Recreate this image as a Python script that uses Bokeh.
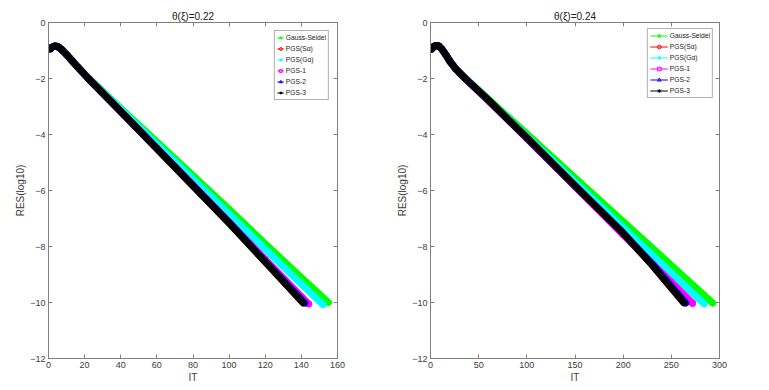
from bokeh.plotting import figure
from bokeh.layouts import row
from bokeh.models import Range1d, FixedTicker, LinearAxis, Legend, LegendItem
from bokeh.embed import file_html
from bokeh.resources import INLINE

# ---------------- data ----------------
SERIES = ["Gauss-Seidel", "PGS(Sα)", "PGS(Gα)", "PGS-1", "PGS-2", "PGS-3"]
COLORS = ["#00ff00", "#ff0000", "#00ffff", "#ff00ff", "#0000ff", "#000000"]
MARKERS = ["star", "circle", "diamond", "square", "triangle", "asterisk"]

# left panel: theta(xi)=0.22
L_HEAD_IT = [1, 2, 3, 4, 5, 6, 8, 10, 13, 16]
L_HEAD_RES = [-0.94, -0.88, -0.85, -0.84, -0.86, -0.90, -1.01, -1.15, -1.36, -1.58]
L_GS_IT = [22, 40, 60, 80, 100, 120, 140, 155]
L_GS_RES = [-1.97, -3.06, -4.26, -5.47, -6.67, -7.90, -9.11, -10.00]
L_SA_IT = [22, 40, 60, 80, 100, 120, 141]
L_SA_RES = [-2.00, -3.18, -4.50, -5.83, -7.16, -8.55, -10.01]
L_GA_IT = [22, 40, 60, 80, 100, 120, 140, 152]
L_GA_RES = [-1.98, -3.10, -4.35, -5.59, -6.84, -8.09, -9.35, -10.08]
L_P1_IT = [22, 40, 60, 80, 100, 120, 144]
L_P1_RES = [-1.99, -3.17, -4.49, -5.80, -7.12, -8.46, -10.05]
L_P2_IT = [22, 40, 60, 80, 100, 120, 142]
L_P2_RES = [-2.00, -3.18, -4.50, -5.83, -7.15, -8.53, -10.02]
L_P3_IT = [22, 40, 60, 80, 100, 120, 141]
L_P3_RES = [-2.00, -3.18, -4.50, -5.83, -7.16, -8.55, -10.01]

# right panel: theta(xi)=0.24
R_HEAD_IT = [1, 3, 5, 7, 9, 12, 16, 20, 26]
R_HEAD_RES = [-0.95, -0.87, -0.83, -0.82, -0.85, -0.96, -1.16, -1.38, -1.65]
R_GS_IT = [36, 60, 100, 150, 200, 250, 293]
R_GS_RES = [-1.98, -2.73, -3.98, -5.55, -7.11, -8.67, -10.02]
R_SA_IT = [36, 60, 100, 150, 200, 230, 263]
R_SA_RES = [-2.00, -2.77, -4.12, -5.83, -7.52, -8.66, -10.01]
R_GA_IT = [36, 60, 100, 150, 200, 250, 284]
R_GA_RES = [-1.99, -2.77, -4.07, -5.70, -7.32, -8.95, -10.05]
R_P1_IT = [36, 60, 100, 150, 200, 250, 272]
R_P1_RES = [-2.00, -2.79, -4.14, -5.86, -7.58, -9.28, -10.03]
R_P2_IT = [36, 60, 100, 150, 200, 230, 265]
R_P2_RES = [-2.00, -2.77, -4.12, -5.83, -7.52, -8.62, -10.02]
R_P3_IT = [36, 60, 100, 150, 200, 230, 263]
R_P3_RES = [-2.00, -2.77, -4.12, -5.83, -7.52, -8.66, -10.01]

Y_TICKS = [-12, -10, -8, -6, -4, -2, 0]
L_X_TICKS = [0, 20, 40, 60, 80, 100, 120, 140, 160]
R_X_TICKS = [0, 50, 100, 150, 200, 250, 300]

LEFT_TAILS = [(L_GS_IT, L_GS_RES), (L_SA_IT, L_SA_RES), (L_GA_IT, L_GA_RES),
              (L_P1_IT, L_P1_RES), (L_P2_IT, L_P2_RES), (L_P3_IT, L_P3_RES)]
RIGHT_TAILS = [(R_GS_IT, R_GS_RES), (R_SA_IT, R_SA_RES), (R_GA_IT, R_GA_RES),
               (R_P1_IT, R_P1_RES), (R_P2_IT, R_P2_RES), (R_P3_IT, R_P3_RES)]

FONT = "Liberation Sans"
AX_COLOR = "#808080"
TXT_COLOR = "#3c3c3c"


def style_axis(ax, ticks, show_labels=True):
    ax.ticker = FixedTicker(ticks=ticks)
    ax.axis_line_color = AX_COLOR
    ax.major_tick_line_color = AX_COLOR
    ax.major_tick_in = 4
    ax.major_tick_out = 0
    ax.minor_tick_line_color = None
    ax.major_label_text_font = FONT
    ax.major_label_text_color = TXT_COLOR
    if show_labels:
        ax.major_label_text_font_size = "9px"
        ax.major_label_standoff = 3
    else:
        ax.major_label_overrides = {t: "" for t in ticks}
        ax.major_label_text_font_size = "1px"
        ax.major_label_standoff = 0
    ax.axis_label_text_font = FONT
    ax.axis_label_text_font_size = "10px"
    ax.axis_label_text_font_style = "normal"
    ax.axis_label_text_color = TXT_COLOR
    ax.axis_label_standoff = 1


def make_panel(title, head_it, head_res, tails, xmax, xticks, width, border_left,
               border_right, glyph_w, legend_margin):
    p = figure(width=width, height=390, output_backend="svg", toolbar_location=None,
               x_range=Range1d(0, xmax), y_range=Range1d(-12, 0),
               min_border_left=border_left, min_border_right=border_right,
               min_border_top=22, min_border_bottom=32)
    p.title.text = title
    p.title.align = "center"
    p.title.text_font = FONT
    p.title.text_font_size = "10px"
    p.title.text_font_style = "normal"
    p.title.text_color = "#202020"
    p.title.standoff = 1
    p.grid.visible = False
    p.outline_line_color = AX_COLOR
    p.background_fill_color = "white"
    p.border_fill_color = "white"

    style_axis(p.xaxis[0], xticks)
    style_axis(p.yaxis[0], Y_TICKS)
    p.xaxis[0].axis_label = "IT"
    p.yaxis[0].axis_label = "RES(log10)"

    top = LinearAxis()
    style_axis(top, xticks, show_labels=False)
    p.add_layout(top, "above")
    right = LinearAxis()
    style_axis(right, Y_TICKS, show_labels=False)
    p.add_layout(right, "right")

    items = []
    for name, color, marker, (t_it, t_res) in zip(SERIES, COLORS, MARKERS, tails):
        xs = head_it + t_it
        ys = head_res + t_res
        thin = p.line(xs, ys, line_color=color, line_width=1)
        p.line(xs, ys, line_color=color, line_width=7, line_join="round", line_cap="round")
        marks = p.scatter(xs, ys, marker=marker, size=5, line_color=color, fill_color=None)
        items.append(LegendItem(label=name, renderers=[thin, marks]))

    legend = Legend(items=items, location="top_right")
    legend.margin = legend_margin
    legend.padding = 2
    legend.spacing = 2
    legend.label_height = 9
    legend.glyph_height = 9
    legend.glyph_width = glyph_w
    legend.label_standoff = 2
    legend.label_text_font = FONT
    legend.label_text_font_size = "6.7px"
    legend.label_text_color = "#202020"
    legend.border_line_color = "#606060"
    legend.background_fill_color = "white"
    legend.background_fill_alpha = 1.0
    p.add_layout(legend)
    return p


p1 = make_panel("θ(ξ)=0.22", L_HEAD_IT, L_HEAD_RES, LEFT_TAILS, 160, L_X_TICKS,
                390, 48, 53, 7, 8)
p2 = make_panel("θ(ξ)=0.24", R_HEAD_IT, R_HEAD_RES, RIGHT_TAILS, 300, R_X_TICKS,
                379, 40, 50, 18, 6)

layout = row(p1, p2)
open("out.html", "w").write(file_html(layout, INLINE))
